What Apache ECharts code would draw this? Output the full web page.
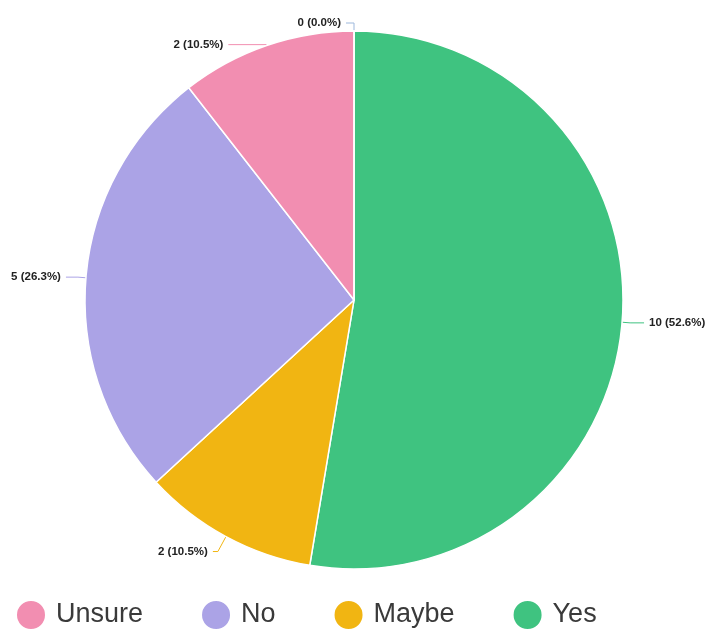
<!DOCTYPE html>
<html>
<head>
<meta charset="utf-8">
<script src="https://cdn.jsdelivr.net/npm/echarts@6/dist/echarts.min.js"></script>
<style>
  html, body { margin: 0; padding: 0; background: #fff; }
  #chart { width: 708px; height: 632px; }
</style>
</head>
<body>
<div id="chart"></div>
<script>
// Survey answers, in drawing order (clockwise from 12 o'clock)
const categories = ['Yes', 'Maybe', 'No', 'Unsure', 'Other'];
const counts = [10, 2, 5, 2, 0];
const sliceColors = ['#3fc380', '#f1b512', '#aba3e6', '#f28eb1', '#9db8dc'];
// Legend order as shown below the pie
const legendOrder = ['Unsure', 'No', 'Maybe', 'Yes'];

// Leader line lengths per slice: [radial part, horizontal part]
const leaderLengths = {
  Yes: [8, 14],
  Maybe: [17, 5],
  No: [8, 12],
  Unsure: [1, 38],
  Other: [8, 8]
};

const chart = echarts.init(document.getElementById('chart'), null, { renderer: 'canvas' });

const pieData = categories.map((name, i) => ({
  name: name,
  value: counts[i],
  itemStyle: { color: sliceColors[i] },
  labelLine: {
    length: leaderLengths[name][0],
    length2: leaderLengths[name][1],
    lineStyle: { color: sliceColors[i] }
  }
}));

chart.setOption({
  animation: false,
  legend: {
    data: legendOrder,
    left: 10,
    top: 594,
    icon: 'circle',
    itemWidth: 30,
    itemHeight: 30,
    itemGap: 57,
    textStyle: {
      fontFamily: 'Liberation Sans, Arial, sans-serif',
      fontSize: 27,
      color: '#3a3a3a',
      padding: [0, 0, 0, 5]
    }
  },
  series: [{
    type: 'pie',
    center: [354, 300],
    radius: [0, 269],
    startAngle: 90,
    clockwise: true,
    avoidLabelOverlap: true,
    stillShowZeroSum: true,
    itemStyle: { borderColor: '#ffffff', borderWidth: 1.5 },
    label: {
      show: true,
      overflow: 'none',
      formatter: p => p.value + ' (' + p.percent.toFixed(1) + '%)',
      fontFamily: 'Liberation Sans, Arial, sans-serif',
      fontWeight: 'bold',
      fontSize: 11.5,
      color: '#222222'
    },
    labelLine: {
      show: true,
      lineStyle: { width: 1 }
    },
    emphasis: { disabled: true },
    data: pieData
  }]
});
</script>
</body>
</html>
